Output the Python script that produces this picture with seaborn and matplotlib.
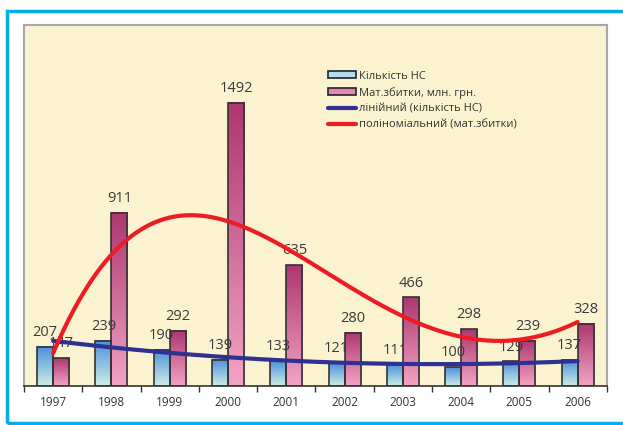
import numpy as np
import pandas as pd
import seaborn as sns
import matplotlib.pyplot as plt
from matplotlib.colors import to_rgb
from matplotlib.patches import Patch, Rectangle
from matplotlib.lines import Line2D

years = ['1997', '1998', '1999', '2000', '2001', '2002', '2003', '2004', '2005', '2006']
accidents = [207, 239, 190, 139, 133, 121, 111, 100, 129, 137]    # Кількість НС
losses = [147, 911, 292, 1492, 635, 280, 466, 298, 239, 328]      # Мат.збитки, млн. грн.
series_names = ['Кількість НС', 'Мат.збитки, млн. грн.']
trend_names = ['лінійний (кількість НС)', 'поліноміальний (мат.збитки)']

df = pd.DataFrame({
    'year': years * 2,
    'value': accidents + losses,
    'series': [series_names[0]] * len(years) + [series_names[1]] * len(years),
})

sns.set_theme(style='white')
plt.rcParams['font.family'] = ['Open Sans', 'DejaVu Sans']

fig = plt.figure(figsize=(6.23, 4.25), dpi=100)
ax = fig.add_axes([0.0385, 0.0918, 0.9355, 0.8492])
ax.set_facecolor('#FBF3CF')

sns.barplot(data=df, x='year', y='value', hue='series', ax=ax, width=0.55,
            palette=['#9fd0e8', '#e07ab0'], edgecolor='#333333', linewidth=1.2,
            legend=False)

# gradient fill for the bars
grads = [('#4a8fdc', '#cdeee6'), ('#ad3770', '#f3a3c5')]
t = np.linspace(0, 1, 100)[:, None]
for cont, (top, bottom) in zip(ax.containers, grads):
    img = (np.array(to_rgb(top)) * (1 - t) + np.array(to_rgb(bottom)) * t)[:, None, :]
    for p in cont.patches:
        x0, w, h = p.get_x(), p.get_width(), p.get_height()
        ax.imshow(img, extent=[x0, x0 + w, 0, h], aspect='auto', zorder=p.get_zorder() - 0.1)
        p.set_facecolor('none')
    ax.bar_label(cont, padding=5, fontsize=10.5, color='#3a3a3a')

# trend lines, fitted the way excel does it
xs = np.arange(len(years))
xx = np.linspace(0, len(years) - 1, 200)
ax.plot(xx, np.polyval(np.polyfit(xs, accidents, 2), xx), color='#2e3192', lw=3, zorder=5)
ax.plot(xx, np.polyval(np.polyfit(xs, losses, 4), xx), color='#ed1c24', lw=3, zorder=5)

ax.set_ylim(0, 1900)
ax.set_xlim(-0.5, len(years) - 0.5)

ax.set_yticks([])
ax.set_xticks(xs)
ax.set_xticks(np.arange(-0.5, len(years)), minor=True)
ax.tick_params(axis='x', which='major', length=0, labelsize=8.5, labelcolor='#333333', pad=7)
ax.tick_params(axis='x', which='minor', length=4, width=1, color='#333333', bottom=True)
ax.set_xlabel('')
ax.set_ylabel('')
for s in ['left', 'top', 'right']:
    ax.spines[s].set_color('#a8a8a8')
    ax.spines[s].set_linewidth(1.5)
ax.spines['bottom'].set_color('#333333')
ax.spines['bottom'].set_linewidth(1.2)

handles = [
    Patch(facecolor='#b4dcef', edgecolor='#222222', linewidth=1.2),
    Patch(facecolor='#e486b6', edgecolor='#222222', linewidth=1.2),
    Line2D([], [], color='#2e3192', lw=3),
    Line2D([], [], color='#ed1c24', lw=3),
]
fig.legend(handles, series_names + trend_names, loc='upper left',
           bbox_to_anchor=(0.511, 0.857), frameon=False, fontsize=8,
           handlelength=2.5, handleheight=0.6, labelspacing=0.45, handletextpad=0.3,
           labelcolor='#333333')

# blue outer frame
fig.patches.append(Rectangle((0.0105, 0.005), 1.2, 0.969, transform=fig.transFigure,
                             fill=False, edgecolor='#00aeef', linewidth=2.5))

fig.savefig('out.png', dpi=100)
